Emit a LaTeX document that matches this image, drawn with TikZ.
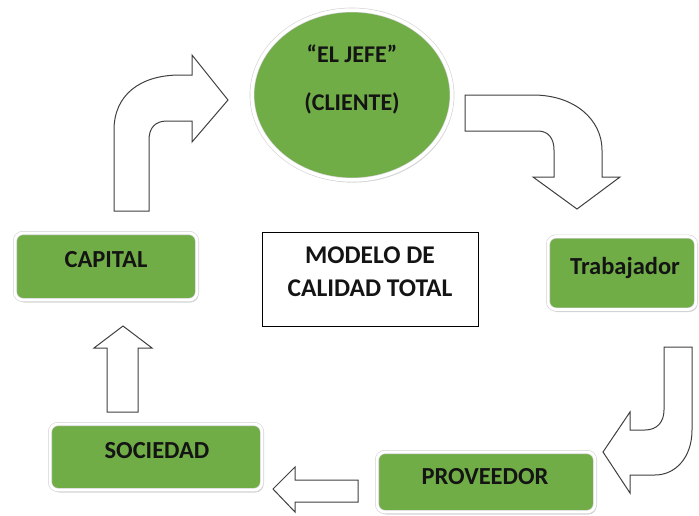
\documentclass[tikz,border=0pt]{standalone}
\usepackage{fontspec}
\setmainfont{Carlito}
\usetikzlibrary{shapes.geometric,shadows}
\definecolor{ogreen}{RGB}{112,173,71}
\definecolor{txt}{RGB}{20,20,20}
\tikzset{
  greenbox/.style={rectangle, rounded corners=8pt, fill=ogreen, draw=gray!35, double=white, double distance=2.8pt, line width=0.6pt,
    drop shadow={fill=black!30, shadow xshift=1.5pt, shadow yshift=-2.5pt}, inner sep=0pt},
  lbl/.style={font=\fontsize{24.5}{28}\selectfont\bfseries, text=txt, align=center, inner sep=0pt},
  blockarrow/.style={draw=black!75, line width=1pt, fill=white, line join=miter},
}
\begin{document}
\begin{tikzpicture}[x=1pt,y=-1pt]
\useasboundingbox (0,0) rectangle (699,515);
% ellipse
\node[ellipse, fill=ogreen, draw=gray!35, double=white, double distance=3.5pt, line width=0.6pt,
  drop shadow={fill=black!30, shadow xshift=1.5pt, shadow yshift=-2.5pt},
  minimum width=200pt, minimum height=170pt] (jefe) at (352,95) {};
\node[lbl, font=\fontsize{24}{48}\selectfont\bfseries] (jefet) at (352,79) {“EL JEFE”\\(CLIENTE)};
% boxes
\node[greenbox, minimum width=182pt, minimum height=67pt] (capital) at (106,266.5) {};
\node[lbl] at (106,260) {CAPITAL};
\node[greenbox, minimum width=148pt, minimum height=73pt] (trab) at (622,273) {};
\node[lbl] at (625,268) {Trabajador};
\node[greenbox, minimum width=212pt, minimum height=66pt] (soc) at (156,457) {};
\node[lbl] at (157,451) {SOCIEDAD};
\node[greenbox, minimum width=218pt, minimum height=60pt] (prov) at (486,482) {};
\node[lbl] at (485,477) {PROVEEDOR};
% center box
\node[draw=black, line width=0.8pt, minimum width=216pt, minimum height=94pt, inner sep=0pt] (modelo) at (370,279) {};
\node[lbl, font=\fontsize{25.5}{33}\selectfont\bfseries] at (370,271.5) {MODELO DE\\CALIDAD TOTAL};
% arrows
\draw[blockarrow] (114,211) -- (114,130) .. controls (114,95) and (140,75) .. (180,75) -- (192,75) -- (192,55) -- (228,100) -- (192,142) -- (192,121) -- (167,121) .. controls (155,121) and (149,128) .. (149,140) -- (149,211) -- cycle;
\draw[blockarrow] (465,95) -- (533,95) .. controls (575,95) and (602,120) .. (602,150) -- (602,177) -- (620,177) -- (577,209) -- (533,177) -- (554,177) -- (554,150) .. controls (554,138) and (548,131) .. (538,131) -- (465,131) -- cycle;
\draw[blockarrow] (664,347) -- (692,347) -- (692,430) .. controls (692,458) and (675,475) .. (655,475) -- (630,475) -- (630,493) -- (603,452) -- (630,412) -- (630,430) -- (645,430) .. controls (657,430) and (664,422) .. (664,410) -- cycle;
\draw[blockarrow] (358,480) -- (358,502) -- (295,502) -- (295,512) -- (273,489) -- (295,467) -- (295,480) -- cycle;
\draw[blockarrow] (107,412) -- (107,348) -- (94,348) -- (123,326) -- (152,348) -- (138,348) -- (138,412) -- cycle;
\end{tikzpicture}
\end{document}
